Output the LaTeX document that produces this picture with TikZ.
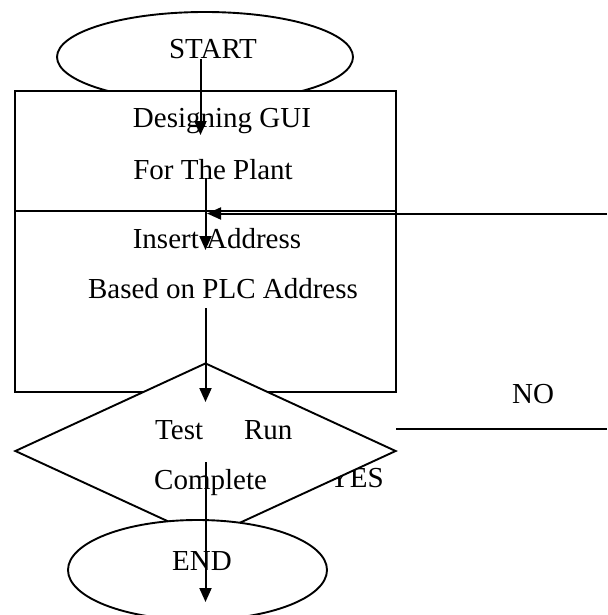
\documentclass[tikz,border=0pt]{standalone}
\usepackage{fontspec}
\setmainfont{Liberation Serif}
\usetikzlibrary{shapes.geometric,arrows.meta}
\begin{document}
\begin{tikzpicture}[x=1pt,y=-1pt,
  shapebox/.style={draw,line width=1.9pt,fill=white,inner sep=0pt},
  lbl/.style={font=\fontsize{29}{34}\selectfont,inner sep=0pt},
  arr/.style={line width=2pt,-{Triangle[length=14pt,width=12pt]}},
  plain/.style={line width=2pt}]
\useasboundingbox (0,0) rectangle (607,615);
\clip (0,0) rectangle (607,615);
\fill[white] (0,0) rectangle (607,615);
% START
\node[shapebox,ellipse,minimum width=296pt,minimum height=90pt] (start) at (205,57) {};
\node[lbl,anchor=base] (starttxt) at (213,59) {START};
% box 1
\node[shapebox,rectangle,minimum width=381pt,minimum height=120pt] (design) at (205.5,151) {};
\node[lbl,anchor=base] (d1) at (222,128) {Designing GUI};
\node[lbl,anchor=base] (d2) at (213,179) {For The Plant};
\coordinate (a1s) at (200.5,59);
\coordinate (a1e) at (200.5,135);
\draw[arr] (a1s) -- (a1e);
% box 2
\node[shapebox,rectangle,minimum width=381pt,minimum height=181pt] (insert) at (205.5,301.5) {};
\node[lbl,anchor=base] (i1) at (217,248) {Insert Address};
\node[lbl,anchor=base] (i2) at (223,298) {Based on PLC Address};
\coordinate (a2s) at (205.5,178);
\coordinate (a2e) at (205.5,250);
\draw[arr] (a2s) -- (a2e);
% feedback arrow
\coordinate (fbs) at (607,213.5);
\coordinate (fbe) at (207,213.5);
\draw[arr] (fbs) -- (fbe);
% NO label and line
\node[lbl,anchor=base] (no) at (533,403) {NO};
\coordinate (nos) at (396,429);
\coordinate (noe) at (607,429);
\draw[plain] (nos) -- (noe);
% YES (partly hidden behind decision)
\node[lbl,anchor=base east] (yes) at (384,487) {YES};
% decision
\node[shapebox,diamond,minimum width=381pt,minimum height=176pt] (test) at (205.5,451) {};
\node[lbl,anchor=base west] (t1) at (155,439) {Test\hspace{41pt}Run};
\node[lbl,anchor=base west] (t2) at (154,489) {Complete};
\coordinate (a3s) at (205.5,308);
\coordinate (a3e) at (205.5,402);
\draw[arr] (a3s) -- (a3e);
% END
\node[shapebox,ellipse,minimum width=259pt,minimum height=100pt] (end) at (197.5,570) {};
\node[lbl,anchor=base] (endtxt) at (202,570) {END};
\coordinate (a4s) at (205.5,462);
\coordinate (a4e) at (205.5,602);
\draw[arr] (a4s) -- (a4e);
\end{tikzpicture}
\end{document}
